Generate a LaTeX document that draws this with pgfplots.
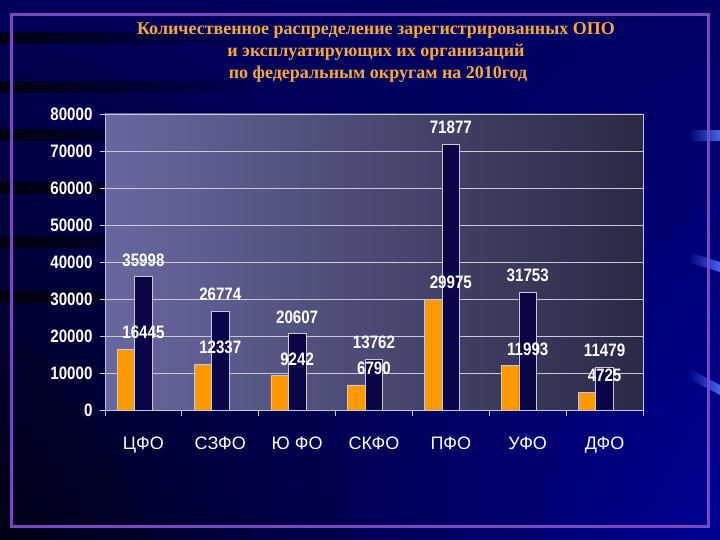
\documentclass[border=0pt]{standalone}
\usepackage{pgfplots}
\pgfplotsset{compat=1.18}
\usepackage{fontspec}
\setmainfont{Liberation Sans}
\newfontfamily\titlefont{Liberation Serif}
\newfontfamily\narrowfont[FakeStretch=0.84]{Liberation Sans}
\usetikzlibrary{fadings,shadings}
\definecolor{bgUL}{RGB}{0,0,88}
\definecolor{bgUR}{RGB}{0,0,100}
\definecolor{bgLL}{RGB}{0,0,20}
\definecolor{bgLR}{RGB}{0,0,150}
\definecolor{framec}{RGB}{122,72,190}
\definecolor{goldc}{RGB}{245,168,55}
\definecolor{orangec}{RGB}{255,153,0}
\definecolor{navyc}{RGB}{8,6,70}
\definecolor{plotL}{RGB}{104,104,160}
\definecolor{plotR}{RGB}{42,42,70}
\definecolor{gridc}{RGB}{200,200,215}
\definecolor{dashc}{RGB}{70,100,235}
\begin{document}
\begin{tikzpicture}[x=1pt,y=1pt]
\useasboundingbox (0,0) rectangle (720,540);
\shade[upper left=bgUL, upper right=bgUR, lower left=bgLL, lower right=bgLR] (0,0) rectangle (720,540);
% dark streaks on the left
\foreach \y in {38,87,135,188,242,297} {
  \fill[black, path fading=east, opacity=0.75] (0,{540-\y-6}) rectangle (260,{540-\y+6});
}
% blue dashes on the right
\fill[dashc, path fading=west] (688,{540-141}) rectangle (720,{540-130});
\fill[dashc, path fading=west] (688,{540-262}) -- (720,{540-272}) -- (720,{540-262}) -- (688,{540-252}) -- cycle;
\fill[dashc, path fading=west] (688,{540-378}) -- (720,{540-395}) -- (720,{540-385}) -- (688,{540-368}) -- cycle;
% frame
\draw[draw=framec, line width=3pt] (11,{540-15}) rectangle (708,{540-527});
% title
\begin{scope}[every node/.style={text=goldc, font=\titlefont\bfseries\fontsize{18}{18}\selectfont, inner sep=0pt}]
\node at (376,{540-30}) {Количественное распределение зарегистрированных ОПО};
\node at (376,{540-52}) {и эксплуатирующих их организаций};
\node at (378,{540-74}) {по федеральным округам на 2010год};
\end{scope}
\begin{axis}[
  at={(105pt,130pt)}, anchor=south west,
  scale only axis, width=538pt, height=296pt,
  xmin=0, xmax=7, ymin=0, ymax=80000,
  axis background/.style={left color=plotL, right color=plotR},
  axis line style={draw=gridc, line width=0.8pt},
  ytick={0,10000,...,80000},
  scaled y ticks=false,
  /pgf/number format/.cd, 1000 sep={}, assume math mode=true, /pgfplots/.cd,
  ymajorgrids, major grid style={draw=gridc, line width=0.8pt},
  tick align=outside, xtick pos=bottom, ytick pos=left,
  major tick length=5pt, minor tick length=6pt,
  tick style={draw=gridc, line width=0.8pt},
  major x tick style={draw=none},
  xtick={0.5,1.5,...,6.5},
  minor xtick={0,1,...,7},
  xticklabels={ЦФО, СЗФО, Ю ФО, СКФО, ПФО, УФО, ДФО},
  xticklabel style={text=white, font=\fontsize{18}{18}\selectfont, anchor=north, yshift=-18pt},
  yticklabel style={text=white, font=\narrowfont\bfseries\fontsize{18}{18}\selectfont, anchor=east, xshift=-4pt},
  every node near coord/.append style={text=white, font=\narrowfont\bfseries\fontsize{18}{18}\selectfont, anchor=south, inner sep=0pt, yshift=10pt},
  clip=false,
]
\addplot[ybar, bar width=17.5pt, bar shift=-17.5pt, fill=orangec, draw=gridc, line width=0.7pt, nodes near coords]
  coordinates {(0.5,16445) (1.5,12337) (2.5,9242) (3.5,6790) (4.5,29975) (5.5,11993) (6.5,4725)};
\addplot[ybar, bar width=17.5pt, bar shift=0pt, fill=navyc, draw=gridc, line width=0.7pt, nodes near coords]
  coordinates {(0.5,35998) (1.5,26774) (2.5,20607) (3.5,13762) (4.5,71877) (5.5,31753) (6.5,11479)};
\end{axis}
\end{tikzpicture}
\end{document}
